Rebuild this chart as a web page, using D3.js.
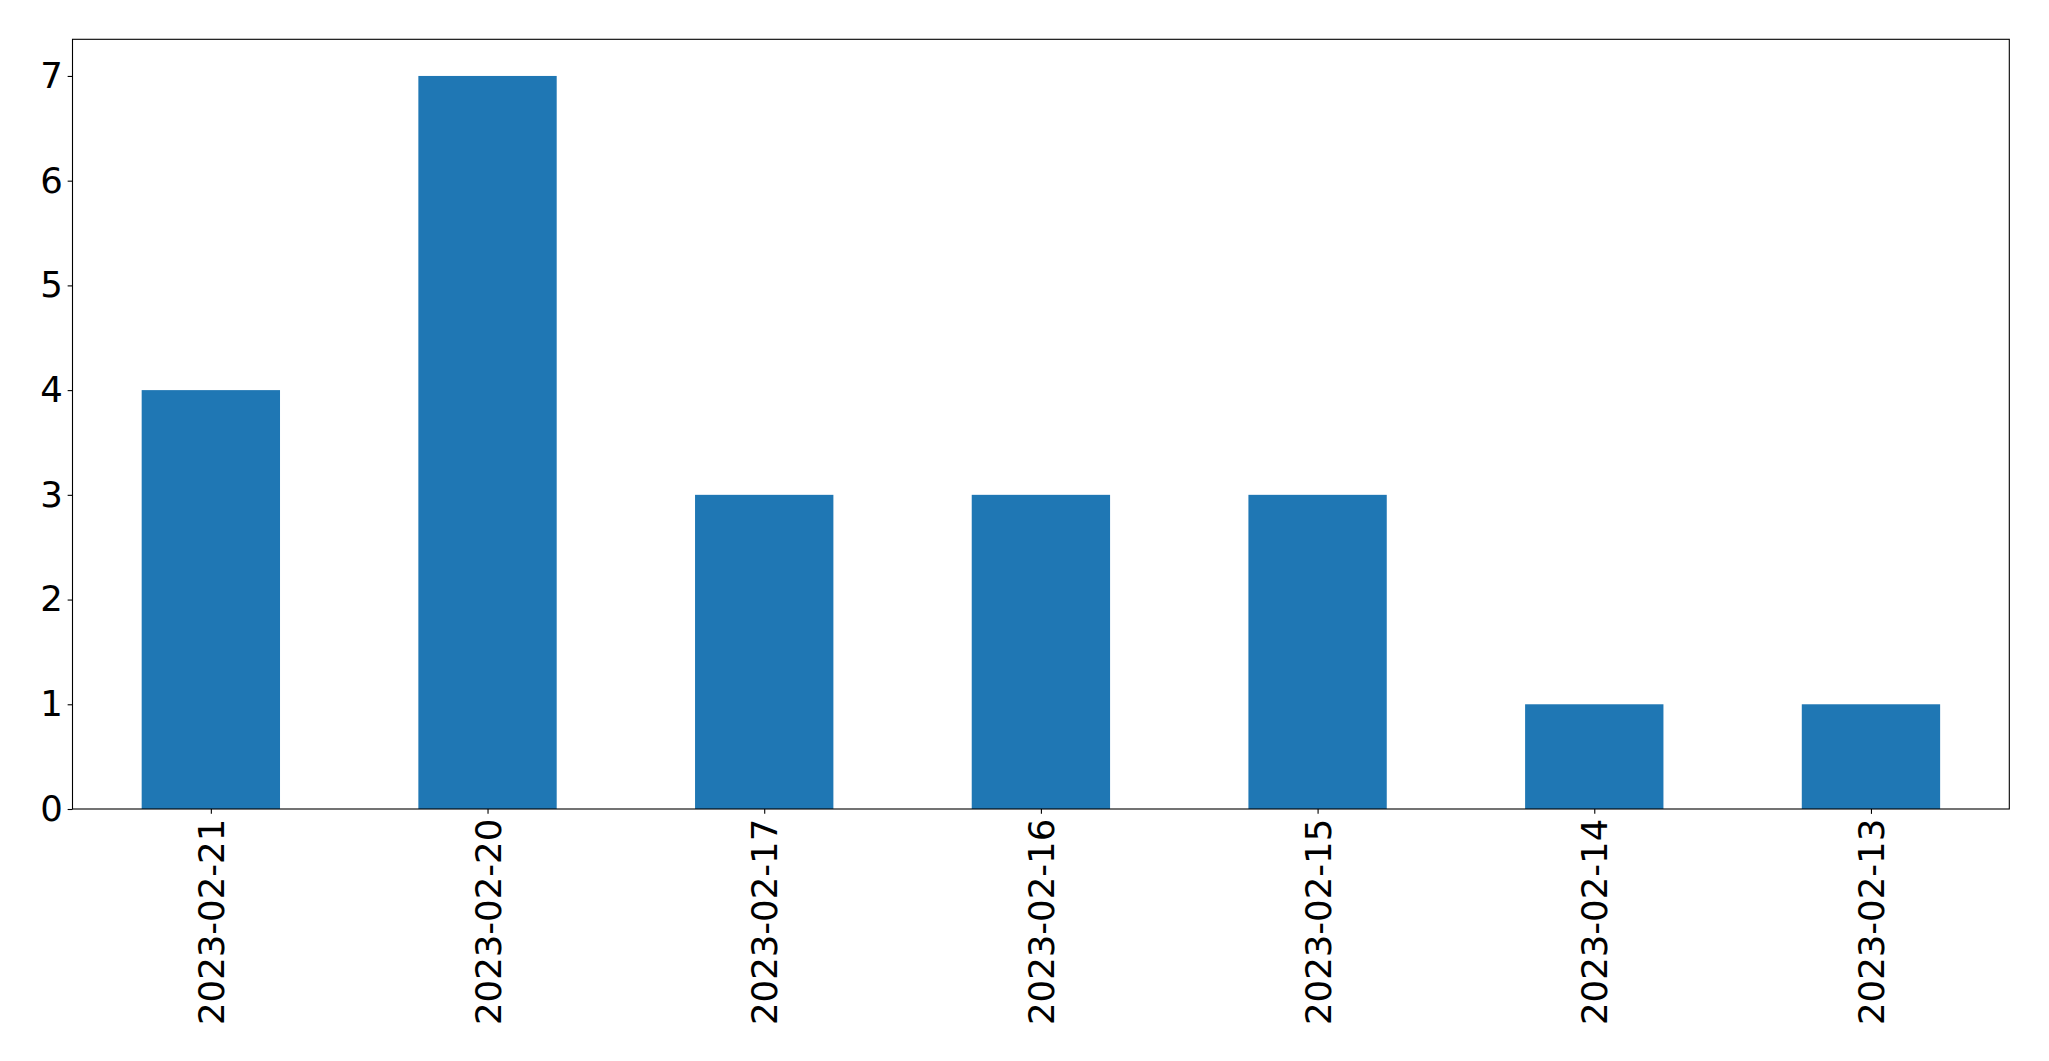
<!DOCTYPE html>
<html>
<head>
<meta charset="utf-8">
<script src="https://cdn.jsdelivr.net/npm/d3@7"></script>
<style>
  html, body { margin: 0; padding: 0; background: #fff; }
  svg { display: block; }
  text { font-family: "DejaVu Sans", sans-serif; fill: #000; }
</style>
</head>
<body>
<script>
const categories = ["2023-02-21", "2023-02-20", "2023-02-17", "2023-02-16", "2023-02-15", "2023-02-14", "2023-02-13"];
const counts = [4, 7, 3, 3, 3, 1, 1];
const yTicks = [0, 1, 2, 3, 4, 5, 6, 7];

const W = 2049, H = 1061;
const margin = { left: 72.5, right: W - 2009.3, top: 39.3, bottom: H - 809 };
const fontSize = 35.5;

const svg = d3.select("body").append("svg").attr("width", W).attr("height", H);

const x = d3.scaleLinear().domain([-0.5, categories.length - 0.5]).range([margin.left, W - margin.right]);
const y = d3.scaleLinear().domain([0, d3.max(counts) * 1.05]).range([H - margin.bottom, margin.top]);

const barW = x(0.25) - x(-0.25);

svg.append("g").selectAll("rect").data(counts).join("rect")
  .attr("x", (d, i) => x(i) - barW / 2)
  .attr("width", barW)
  .attr("y", d => y(d))
  .attr("height", d => y(0) - y(d))
  .attr("fill", "#1f77b4");

const tickLen = 4.86, pad = 4.86;

const yAxis = d3.axisLeft(y).tickValues(yTicks).tickFormat(d3.format("d")).tickSizeInner(tickLen).tickSizeOuter(0).tickPadding(pad);
const gy = svg.append("g").attr("transform", `translate(${margin.left},0)`).call(yAxis);
gy.select(".domain").remove();
gy.selectAll("line").attr("stroke", "#000").attr("stroke-width", 1.1);
gy.selectAll("text").style("font-size", fontSize + "px").style("font-family", "DejaVu Sans");

const xAxis = d3.axisBottom(x).tickValues(d3.range(categories.length)).tickFormat(i => categories[i]).tickSizeInner(tickLen).tickSizeOuter(0).tickPadding(pad);
const gx = svg.append("g").attr("transform", `translate(0,${H - margin.bottom})`).call(xAxis);
gx.select(".domain").remove();
gx.selectAll("line").attr("stroke", "#000").attr("stroke-width", 1.1);
gx.selectAll("text")
  .style("font-size", fontSize + "px").style("font-family", "DejaVu Sans")
  .attr("transform", null)
  .attr("y", 0).attr("dy", null)
  .attr("text-anchor", "end")
  .attr("dominant-baseline", "central")
  .attr("transform", `translate(0,${tickLen + pad}) rotate(-90)`);

svg.append("rect")
  .attr("x", margin.left).attr("y", margin.top)
  .attr("width", W - margin.right - margin.left)
  .attr("height", H - margin.bottom - margin.top)
  .attr("fill", "none").attr("stroke", "#000").attr("stroke-width", 1.1);
</script>
</body>
</html>
